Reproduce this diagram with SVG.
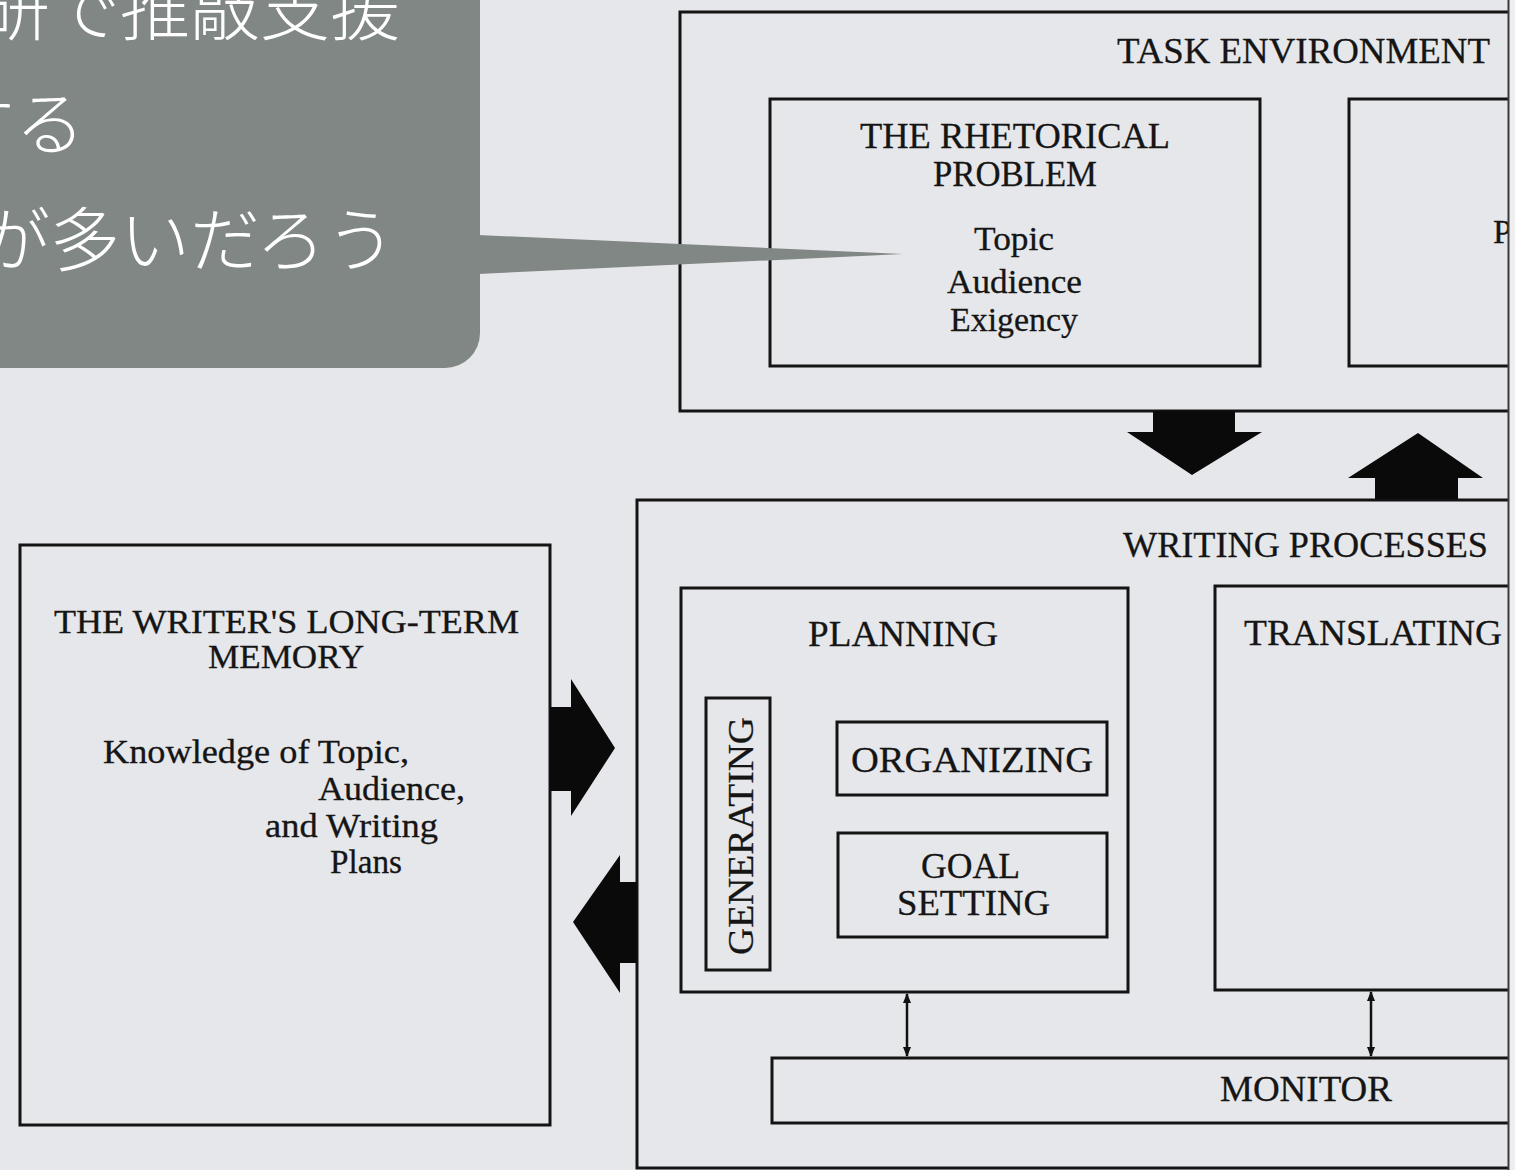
<svg xmlns="http://www.w3.org/2000/svg" width="1515" height="1170" viewBox="0 0 1515 1170">
<defs>
<style>
.box{fill:none;stroke:#141414;stroke-width:3}
.t{font-family:"Liberation Serif","Times New Roman",serif;fill:#151515;font-size:36px;stroke:#151515;stroke-width:0.3}
.m{font-family:"Liberation Serif","Times New Roman",serif;fill:#151515;font-size:33px;stroke:#151515;stroke-width:0.3}
.s{font-family:"Liberation Serif","Times New Roman",serif;fill:#151515;font-size:34px;stroke:#151515;stroke-width:0.3}
.blk{fill:#0a0a0a}
.jp{font-family:"Noto Sans CJK JP","Noto Sans CJK SC",sans-serif;font-weight:300;font-size:70px;fill:#ffffff}
.thin{stroke:#111;stroke-width:2.5;fill:none}
</style>
<marker id="ah" viewBox="0 0 10 10" refX="9" refY="5" markerWidth="4" markerHeight="5" orient="auto-start-reverse" markerUnits="strokeWidth">
<path d="M0,1 L10,5 L0,9 Z" fill="#111"/>
</marker>
<clipPath id="scan"><rect x="0" y="0" width="1508" height="1170"/></clipPath>
</defs>
<rect x="0" y="0" width="1515" height="1170" fill="#e6e7ea"/>
<rect x="1508" y="0" width="7" height="1170" fill="#eeeef0"/>

<g clip-path="url(#scan)">
<g id="task-environment">
<rect class="box" x="680" y="12" width="840" height="399"/>
<text class="t" x="1117" y="63" textLength="373" lengthAdjust="spacingAndGlyphs">TASK ENVIRONMENT</text>
</g>
<g id="rhetorical-problem">
<rect class="box" x="770" y="99" width="490" height="267"/>
<text class="t" x="860" y="148" textLength="310" lengthAdjust="spacingAndGlyphs">THE RHETORICAL</text>
<text class="t" x="933" y="186" textLength="164" lengthAdjust="spacingAndGlyphs">PROBLEM</text>
<text class="s" x="974" y="250" textLength="80" lengthAdjust="spacingAndGlyphs">Topic</text>
<text class="s" x="947" y="293" textLength="135" lengthAdjust="spacingAndGlyphs">Audience</text>
<text class="s" x="950" y="331" textLength="128" lengthAdjust="spacingAndGlyphs">Exigency</text>
</g>
<g id="written-text">
<rect class="box" x="1349" y="99" width="180" height="267"/>
<text class="s" x="1493" y="243">P</text>
</g>

<g id="writing-processes">
<rect class="box" x="637" y="500" width="890" height="668"/>
<text class="t" x="1123" y="557" textLength="365" lengthAdjust="spacingAndGlyphs">WRITING PROCESSES</text>
</g>
<g id="planning">
<rect class="box" x="681" y="588" width="447" height="404"/>
<text class="t" x="808" y="646" textLength="190" lengthAdjust="spacingAndGlyphs">PLANNING</text>
</g>
<g id="generating">
<rect class="box" x="706" y="698" width="64" height="272"/>
<text class="t" transform="translate(753,836) rotate(-90)" x="0" y="0" text-anchor="middle" textLength="238" lengthAdjust="spacingAndGlyphs">GENERATING</text>
</g>
<g id="organizing">
<rect class="box" x="837" y="722" width="270" height="73"/>
<text class="t" x="851" y="772" textLength="242" lengthAdjust="spacingAndGlyphs">ORGANIZING</text>
</g>
<g id="goal-setting">
<rect class="box" x="838" y="833" width="269" height="104"/>
<text class="t" x="921" y="878" textLength="99" lengthAdjust="spacingAndGlyphs">GOAL</text>
<text class="t" x="897" y="915" textLength="153" lengthAdjust="spacingAndGlyphs">SETTING</text>
</g>
<g id="translating">
<rect class="box" x="1215" y="586" width="310" height="404"/>
<text class="t" x="1244" y="645" textLength="258" lengthAdjust="spacingAndGlyphs">TRANSLATING</text>
</g>
<g id="monitor">
<rect class="box" x="772" y="1058" width="755" height="65"/>
<text class="t" x="1220" y="1101" textLength="172" lengthAdjust="spacingAndGlyphs">MONITOR</text>
</g>

<g id="long-term-memory">
<rect class="box" x="20" y="545" width="530" height="580"/>
<text class="m" x="54" y="633" textLength="465" lengthAdjust="spacingAndGlyphs">THE WRITER'S LONG-TERM</text>
<text class="m" x="208" y="668" textLength="156" lengthAdjust="spacingAndGlyphs">MEMORY</text>
<text class="s" x="103" y="763" textLength="306" lengthAdjust="spacingAndGlyphs">Knowledge of Topic,</text>
<text class="s" x="318" y="800" textLength="147" lengthAdjust="spacingAndGlyphs">Audience,</text>
<text class="s" x="265" y="837" textLength="173" lengthAdjust="spacingAndGlyphs">and Writing</text>
<text class="s" x="330" y="873" textLength="72" lengthAdjust="spacingAndGlyphs">Plans</text>
</g>

<g id="connectors">
<polygon class="blk" points="1153,411 1235,411 1235,432 1262,432 1192,475 1127,432 1153,432"/>
<polygon class="blk" points="1375,499 1458,499 1458,478 1483,478 1418,433 1348,478 1375,478"/>
<polygon class="blk" points="550,707 571,707 571,679 615,748 571,816 571,791 550,791"/>
<polygon class="blk" points="637,882 620,882 620,855 573,922 620,993 620,963 637,963"/>
<line class="thin" x1="907" y1="994" x2="907" y2="1056" marker-start="url(#ah)" marker-end="url(#ah)"/>
<line class="thin" x1="1371" y1="992" x2="1371" y2="1056" marker-start="url(#ah)" marker-end="url(#ah)"/>
</g>
</g>
<line x1="1508.5" y1="0" x2="1508.5" y2="1170" stroke="#3a3a3a" stroke-width="2"/>

<g id="callout">
<path d="M-20,-20 H480 V333 A35,35 0 0 1 445,368 H-20 Z" fill="#818784"/>
<polygon points="478,235 903,254 478,274" fill="#818784"/>
<text class="jp" x="-20" y="35">研で推敲支援</text>
<text class="jp" x="-55" y="150">する</text>
<text class="jp" x="-20" y="266">が多いだろう</text>
</g>
</svg>
